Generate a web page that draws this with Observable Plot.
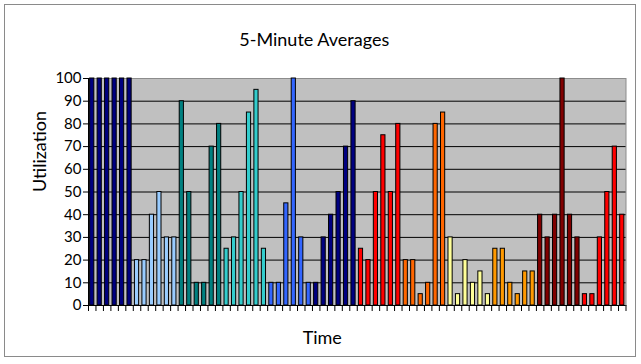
<!DOCTYPE html>
<html><head><meta charset="utf-8">
<script src="https://cdn.jsdelivr.net/npm/d3@7"></script>
<script src="https://cdn.jsdelivr.net/npm/@observablehq/plot@0.6"></script>
<style>
body{margin:0;background:#fff;}
#wrap{position:relative;width:641px;height:364px;overflow:hidden}
#wrap svg{position:absolute;left:0;top:0}
#border{position:absolute;left:4px;top:4px;width:632px;height:353px;border:1px solid #8a8a8a;box-sizing:border-box;pointer-events:none}
</style></head><body><div id="wrap"><div id="border"></div></div>
<script>
// Time slots (categories)
const slots = d3.range(1, 73).map(String);
// Utilization values per slot
const values = [
  100,100,100,100,100,100,
  20,20,40,50,30,30,
  90,50,10,10,70,80,
  25,30,50,85,95,25,
  10,10,45,100,30,10,
  10,30,40,50,70,90,
  25,20,50,75,50,80,
  20,20,5,10,80,85,
  30,5,20,10,15,5,
  25,25,10,5,15,15,
  40,30,40,100,40,30,
  5,5,30,50,70,40
];
// Colour group of each block of six slots
const groups = ["G1","G2","G3","G4","G5","G6","G7","G8","G9","G10","G11","G12"];
const yTicks = [0,10,20,30,40,50,60,70,80,90,100];

const data = slots.map((t, i) => ({t, v: values[i], g: groups[Math.floor(i / 6)]}));

const W = 641, H = 364, mL = 88, mR = 15.5, mT = 78, mB = 59;
const step = (W - mL - mR) / slots.length;

const chart = Plot.plot({
  width: W, height: H,
  marginLeft: mL, marginRight: mR, marginTop: mT, marginBottom: mB,
  style: {fontFamily: "Lato, 'Open Sans', sans-serif", fontSize: "15px", color: "black", background: "transparent", overflow: "visible"},
  x: {domain: slots, paddingInner: 0.44, paddingOuter: 0.22},
  y: {domain: [0, 100]},
  color: {domain: groups, range: ["#000080","#99CCFF","#008080","#33CCCC","#3366FF","#000080","#FF0000","#FF6600","#FFFF99","#FF9900","#800000","#FF0000"]},
  marks: [
    Plot.frame({fill: "#c0c0c0", stroke: "#8c8c8c"}),
    Plot.gridY(yTicks.slice(1, -1), {stroke: "black", strokeOpacity: 1}),
    Plot.barY(data, {x: "t", y: "v", fill: "g", stroke: "black", strokeWidth: 1}),
    Plot.frame({anchor: "left", stroke: "black"}),
    Plot.ruleY([0], {stroke: "black"}),
    Plot.axisY({ticks: yTicks, tickSize: 5, tickPadding: 2, stroke: "black", fontSize: 15, label: null}),
    Plot.axisX({tickSize: 6, tickFormat: () => "", dx: -step / 2, stroke: "black", label: null}),
    Plot.axisX([slots[slots.length - 1]], {tickSize: 6, tickFormat: () => "", dx: step / 2, stroke: "black", label: null}),
    Plot.text(["5-Minute Averages"], {frameAnchor: "top", dx: -43, dy: -38, fontSize: 18, lineAnchor: "middle"}),
    Plot.text(["Time"], {frameAnchor: "bottom", dx: -35, dy: 33, fontSize: 18, lineAnchor: "middle"}),
    Plot.text(["Utilization"], {frameAnchor: "left", dx: -48, dy: 0, rotate: -90, fontSize: 18, lineAnchor: "middle"})
  ]
});
document.getElementById("wrap").prepend(chart);
</script>
</body></html>
